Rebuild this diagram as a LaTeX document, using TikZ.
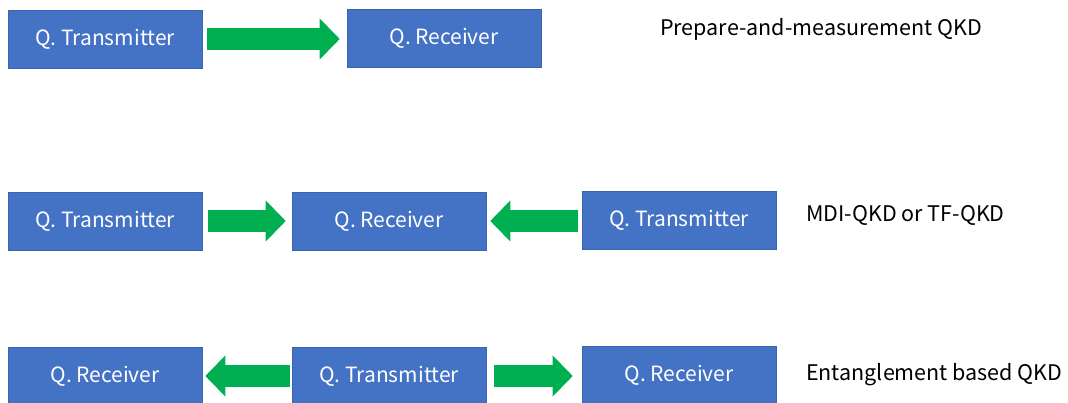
\documentclass[tikz,border=0pt]{standalone}
\usepackage{fontspec}
\setmainfont{Noto Sans CJK SC}
\usetikzlibrary{arrows.meta}
\definecolor{boxblue}{HTML}{4472C4}
\definecolor{boxedge}{HTML}{3A64B0}
\definecolor{flowgreen}{HTML}{00B050}
\tikzset{
  unit/.style={rectangle, fill=boxblue, draw=boxedge, line width=0.6pt,
    minimum width=194pt, minimum height=58pt, inner sep=0pt,
    text=white, font=\fontsize{21pt}{25pt}\selectfont},
  kind/.style={anchor=west, inner sep=0pt, text=black,
    font=\fontsize{21.5pt}{25pt}\selectfont},
  flow/.style={draw=flowgreen, line width=22pt, line cap=butt,
    -{Triangle[length=20pt, width=41pt, line width=0pt]}},
}
\begin{document}
\begin{tikzpicture}[x=1pt, y=-1pt]
  \useasboundingbox (0,0) rectangle (1068,403);
  \clip (0,0) rectangle (1068,403);

  % prepare-and-measure
  \node[unit] (tx1) at (105,39) {\raisebox{-1.5pt}{Q. Transmitter}};
  \node[unit] (rx1) at (444,38) {\raisebox{-1.5pt}{Q. Receiver}};
  \node[kind] (lab1) at (660,29) {Prepare-and-measurement QKD};
  \draw[flow, shorten <=5pt, shorten >=7pt] (tx1.east |- 0,39) -- (rx1.west |- 0,39);

  % measurement-device-independent / twin-field
  \node[unit] (tx2) at (105,221) {\raisebox{-1.5pt}{Q. Transmitter}};
  \node[unit] (rx2) at (389,221) {\raisebox{-1.5pt}{Q. Receiver}};
  \node[unit] (tx3) at (679,220) {\raisebox{-1.5pt}{Q. Transmitter}};
  \node[kind] (lab2) at (806,215) {MDI-QKD or TF-QKD};
  \draw[flow, shorten <=6pt, shorten >=6pt] (tx2.east) -- (rx2.west);
  \draw[flow, shorten <=4pt, shorten >=4pt] (tx3.west |- 0,221) -- (rx2.east |- 0,221);

  % entanglement based
  \node[unit] (rx3) at (105,376) {\raisebox{-1.5pt}{Q. Receiver}};
  \node[unit] (tx4) at (389,376) {\raisebox{-1.5pt}{Q. Transmitter}};
  \node[unit] (rx4) at (679,375) {\raisebox{-1.5pt}{Q. Receiver}};
  \node[kind] (lab3) at (806,375) {Entanglement based QKD};
  \draw[flow, shorten <=2pt, shorten >=3pt] (tx4.west) -- (rx3.east);
  \draw[flow, shorten <=8pt, shorten >=9pt] (tx4.east) -- (rx4.west |- 0,376);
\end{tikzpicture}
\end{document}
